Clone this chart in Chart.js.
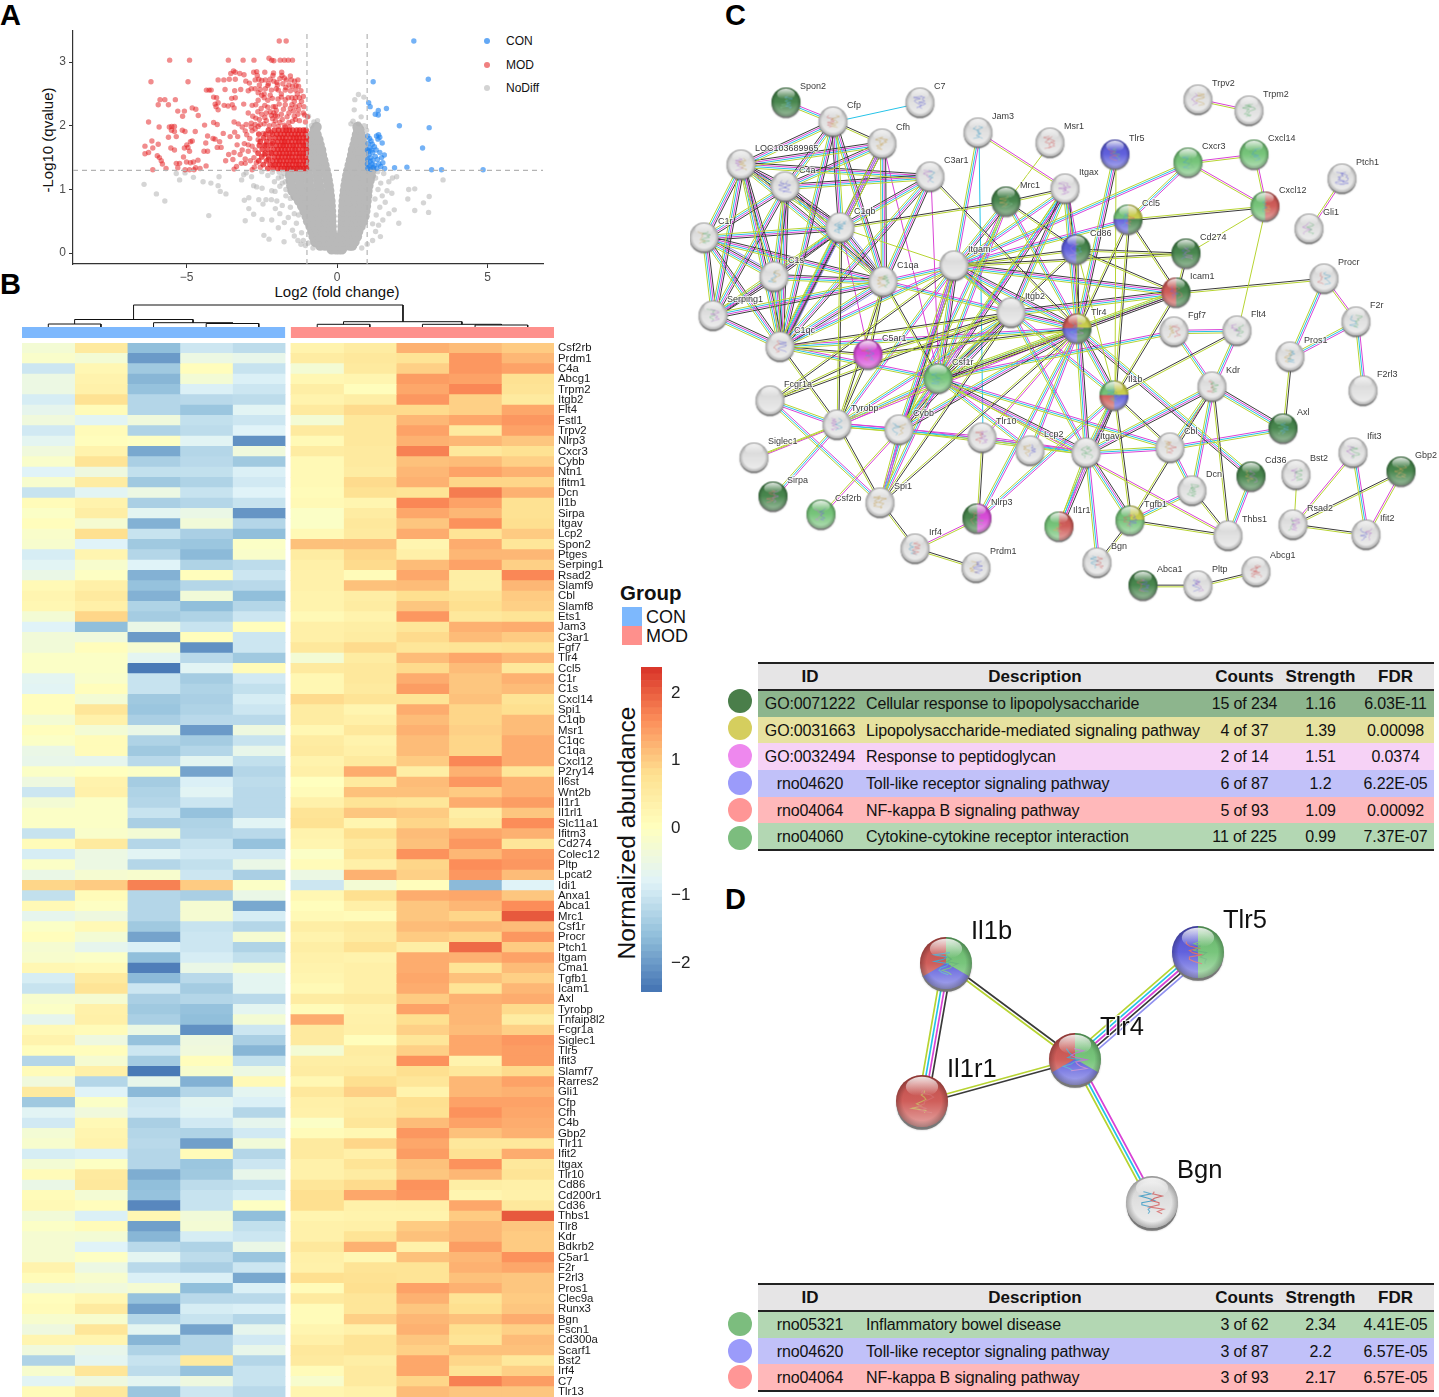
<!DOCTYPE html>
<html lang="en">
<head>
<meta charset="UTF-8" />
<title>Volcano, heatmap and network panels</title>
<script src="https://cdn.jsdelivr.net/npm/chart.js"></script>
<style>
  * { margin: 0; padding: 0; box-sizing: border-box; }
  body { width: 1439px; height: 1397px; position: relative; overflow: hidden; background: #fff; font-family: 'Liberation Sans', Arial, sans-serif; color: #111; }
  canvas { position: absolute; }
  .letter { position: absolute; font-weight: bold; font-size: 29px; line-height: 29px; color: #000; }
  .abs { position: absolute; white-space: nowrap; }
  .dot { position: absolute; width: 6px; height: 6px; border-radius: 50%; }
  .swatch { position: absolute; left: 622px; width: 20px; height: 19px; }
  .ball { position: absolute; left: 728px; width: 24px; height: 24px; border-radius: 50%; }
  table { position: absolute; left: 758px; width: 676px; border-collapse: collapse; table-layout: fixed; border-top: 2px solid #222; border-bottom: 2px solid #222; font-size: 16px; }
  th { background: #e6e5e6; height: 27px; font-size: 17px; border-bottom: 2px solid #222; padding-top: 1px; }
  th:nth-child(2) { padding-left: 3px; }
  td { height: 26.7px; text-align: center; white-space: nowrap; padding: 1px 0 0; letter-spacing: -0.13px; }
  td:nth-child(2) { text-align: left; padding-left: 4px; }
</style>
</head>
<body>
<div class="letter" style="left:0;top:1px">A</div>
<div class="letter" style="left:0;top:270px">B</div>
<div class="letter" style="left:725px;top:1px">C</div>
<div class="letter" style="left:725px;top:885px">D</div>

<div class="dot" style="left:484px;top:38px;background:#63a8f5"></div>
<div class="abs" style="left:506px;top:34px;font-size:12px">CON</div>
<div class="dot" style="left:484px;top:62px;background:#f08080"></div>
<div class="abs" style="left:506px;top:58px;font-size:12px">MOD</div>
<div class="dot" style="left:484px;top:85px;background:#d3d3d3"></div>
<div class="abs" style="left:506px;top:81px;font-size:12px">NoDiff</div>
<div class="abs" style="left:47px;top:140px;font-size:15px;transform:translate(-50%,-50%) rotate(-90deg)">-Log10 (qvalue)</div>
<div class="abs" style="left:337px;top:291px;font-size:15px;transform:translate(-50%,-50%)">Log2 (fold change)</div>

<div class="abs" style="left:620px;top:581px;font-size:20.5px;font-weight:bold">Group</div>
<div class="swatch" style="top:607px;background:#7db8fd"></div>
<div class="swatch" style="top:626px;background:#fe908c"></div>
<div class="abs" style="left:646px;top:607px;font-size:18px">CON</div>
<div class="abs" style="left:646px;top:626px;font-size:18px">MOD</div>
<div class="abs" style="left:627px;top:833px;font-size:24.6px;transform:translate(-50%,-50%) rotate(-90deg)">Normalized abundance</div>

<div id="tableC"></div>
<div id="tableD"></div>

<script>
// A: volcano, values
const volcanoXTicks = [-5, 0, 5];
const volcanoYTicks = [0, 1, 2, 3];
const foldCutoffs = [-1, 1];
const qCutoff = 1.3;

const conPoints = [[2.55,3.33],[3.03,2.73],[1.2,2.69],[1.05,2.36],[1.1,2.3],[1.64,2.27],[1.37,2.24],[1.37,2.17],[1.27,2.18],[2.07,2],[3.06,1.97],[2.84,1.65],[1.91,1.34],[2.32,1.35],[3.14,1.31],[3.47,1.31],[4.85,1.31],
  [1.02,1.84],[1.08,1.8],[1.13,1.76],[1.03,1.72],[1.17,1.71],[1.38,1.86],[1.42,1.82],[1.36,1.79],[1.31,1.84],[1.24,1.67],[1.5,1.73],[1.09,1.65],[1.01,1.62],[1.18,1.58],[1.3,1.62],[1.42,1.58],[1.06,1.55],[1.12,1.5],[1.27,1.52],[1.02,1.47],[1.1,1.44],[1.19,1.46],[1.34,1.47],[1.57,1.54],[1.48,1.5],[1.01,1.4],[1.08,1.37],[1.16,1.4],[1.25,1.38],[1.39,1.4],[1.52,1.42],[1.02,1.33],[1.12,1.32],[1.21,1.34],[1.58,1.33],[1.32,1.33],[1.05,1.6],[1.15,1.62],[1.45,1.36]];

const modPoints = [[-1.92,3.33],[-1.69,3.33],[-5.56,3.03],[-4.9,3.03],[-3.61,3.03],[-3.12,3.03],[-2.76,3.03],[-2.26,3.06],[-2.17,3.03],[-2.1,3.02],[-1.89,3.03],[-1.75,3.03],[-1.62,3.03],[-1.48,3.03],
  [-3.44,2.86],[-3.38,2.84],[-3.53,2.82],[-3.23,2.82],[-3.09,2.8],[-2.77,2.84],[-2.67,2.85],[-2.4,2.84],[-2.11,2.83],[-1.84,2.84],[-1.83,2.79],[-2.13,2.79],[-2.65,2.79],
  [-6.18,2.69],[-4.95,2.69],[-3.95,2.72],[-3.76,2.72],[-3.58,2.73],[-3.38,2.73],[-3.03,2.7],[-2.91,2.67],[-2.72,2.72],[-2.6,2.73],[-2.5,2.71],[-2.38,2.72],[-2.22,2.73],[-2.1,2.7],[-1.9,2.74],[-1.75,2.75],[-1.68,2.72],[-1.52,2.72],[-1.41,2.7],[-2.58,2.64],[-2.3,2.63],[-1.98,2.64],[-1.8,2.66],[-1.6,2.64],[-1.36,2.63],[-1.28,2.62],
  [-4.34,2.56],[-4.25,2.56],[-4.18,2.56],[-3.72,2.57],[-3.4,2.55],[-3.2,2.57],[-2.95,2.55],[-2.85,2.58],[-2.72,2.58],[-2.55,2.57],[-2.38,2.58],[-2.18,2.56],[-1.95,2.56],[-1.72,2.56],[-1.55,2.55],[-1.38,2.56],[-1.2,2.55],
  [-4.1,2.45],[-4,2.44],[-3.5,2.43],[-3.38,2.44],[-2.5,2.48],[-2.42,2.44],[-2.15,2.43],[-1.85,2.45],[-1.62,2.44],[-1.5,2.44],[-1.38,2.44],[-1.25,2.44],[-1.12,2.46],[-2.3,2.4],[-1.72,2.41],
  [-5.88,2.41],[-5.72,2.41],[-5.94,2.33],[-5.6,2.33],[-5.37,2.41],[-5.29,2.23],[-5.07,2.23],[-5.13,2.15],[-4.81,2.28],[-4.69,2.26],[-4.61,2.16],[-4.05,2.34],[-3.95,2.36],[-4.02,2.3],[-3.95,2.25],[-3.75,2.32],[-3.62,2.31],[-3.48,2.33],[-3.42,2.28],[-3.1,2.34],[-2.7,2.33],[-2.52,2.27],[-2.3,2.29],[-2.12,2.3],[-1.92,2.34],[-1.72,2.33],[-1.5,2.33],[-1.38,2.3],[-1.25,2.32],[-1.1,2.3],
  [-2.63,2.22],[-2.5,2.18],[-2.35,2.2],[-2.1,2.2],[-2.02,2.24],[-1.98,2.15],[-1.85,2.18],[-1.6,2.2],[-1.45,2.23],[-1.3,2.18],[-1.08,2.17],[-0.98,2.14],[-2.7,2.12],[-2.58,2.1],[-2.4,2.13],[-2.14,2.11],[-2.05,2.08],[-1.82,2.1],[-1.48,2.07],[-1.38,2.1],[-1.25,2.08],[-1.05,2.06],
  [-6.26,2.06],[-5.91,1.98],[-5.57,1.98],[-5.49,1.99],[-5.4,1.99],[-5.5,1.93],[-5.4,1.91],[-5.6,1.82],[-5.34,1.83],[-5.14,1.93],[-5.05,1.91],[-4.71,1.91],[-4.4,2.01],[-4.1,2.05],[-3.98,2.02],[-3.42,2.06],[-3.28,2.03],[-3.15,1.98],[-3.02,2.02],[-2.85,2.04],[-2.72,2.02],[-2.62,1.99],[-2.42,2.03],[-2.25,2],[-2.1,2.02],[-1.95,1.99],[-1.75,2.01],[-1.58,1.98],
  [-6.15,1.76],[-5.94,1.71],[-6.12,1.65],[-6.38,1.68],[-6.38,1.56],[-6.26,1.58],[-5.97,1.53],[-5.9,1.5],[-5.84,1.45],[-5.8,1.4],[-6.12,1.31],[-5.68,1.33],[-5.52,1.65],[-5.4,1.62],[-5.34,1.41],[-5.23,1.41],[-5.29,1.34],[-5.1,1.51],[-5.07,1.65],[-4.99,1.7],[-4.87,1.75],[-4.81,1.76],[-4.95,1.66],[-4.9,1.6],[-5,1.43],[-4.87,1.42],[-4.77,1.43],[-4.62,1.46],[-4.7,1.34],[-5.05,1.31],[-4.9,1.31],[-4.75,1.31],[-4.55,1.33],[-4.35,1.37],[-4.3,1.6],[-4.42,1.6],[-4.36,1.73],[-4.3,1.84],[-4.12,1.8],[-4.05,1.79],[-3.9,1.75],[-3.85,1.66],[-3.98,1.66],[-3.78,1.88],[-3.55,1.83],[-3.4,1.9],[-3.3,1.83],[-3.32,1.7],[-3.42,1.58],[-3.6,1.55],[-3.7,1.45],[-3.46,1.47],[-3.42,1.32],[-3.34,1.36],[-3.22,1.55],[-3.15,1.62],[-3.08,1.72],[-3,1.86],[-2.9,1.8],[-2.82,1.92],[-3.05,1.48],[-3.18,1.41],[-3.05,1.41],[-2.88,1.45],[-2.76,1.5],[-2.95,1.6],[-2.82,1.68],[-2.75,1.35],[-2.82,1.31],
  [-2.55,2.02],[-2.35,2.08],[-2.18,2.16],[-2.05,2.3],[-1.96,2.42],[-1.78,2.26],[-1.66,2.14],[-1.55,2.27],[-1.42,2.38],[-1.32,2.5],[-1.18,2.38],[-1.12,2.2],[-1.28,2.25],[-1.42,2.15],[-1.6,2.05],[-1.72,1.98],[-1.9,2.05],[-2.05,2.16],[-2.22,2.22],[-2.4,2.32],[-2.62,2.4],[-2.82,2.32],[-2.95,2.2],[-2.8,2.15],[-2.72,1.95],[-2.85,1.98],[-3.05,1.92],[-2.95,1.7],[-2.62,1.78],[-2.72,1.62],[-2.68,1.42],[-2.55,1.35],[-2.42,1.55],[-2.28,1.47],[-2.36,1.7],[-2.45,1.88],[-2.2,1.9],[-2.15,1.72],[-2.2,1.58],[-2.12,1.38],[-1.85,2.5],[-1.7,2.6],[-1.48,2.62],[-2.02,2.58],[-2.22,2.48],[-2.42,2.5],[-2.62,2.52],[-2,2.68],[-2.28,2.66],[-1.55,2.78],[-1.3,2.72]];

// dense part of the red cloud, y first then the x values on that row
const modRows = [
  [1.33,-1.02,-1.12,-1.22,-1.33,-1.44,-1.53,-1.66,-1.75,-1.86,-1.97,-2.12,-2.3],
  [1.39,-1.04,-1.15,-1.27,-1.36,-1.48,-1.6,-1.7,-1.82,-1.93,-2.05,-2.22,-2.45],
  [1.45,-1.02,-1.11,-1.23,-1.35,-1.45,-1.55,-1.67,-1.78,-1.9,-2,-2.14,-2.34,-2.6],
  [1.51,-1.05,-1.16,-1.26,-1.38,-1.5,-1.61,-1.72,-1.84,-1.95,-2.08,-2.27,-2.5],
  [1.57,-1.03,-1.13,-1.24,-1.34,-1.47,-1.58,-1.68,-1.8,-1.91,-2.03,-2.18,-2.38,-2.62],
  [1.63,-1.02,-1.14,-1.28,-1.39,-1.49,-1.62,-1.73,-1.85,-1.96,-2.1,-2.3,-2.48],
  [1.69,-1.04,-1.12,-1.23,-1.36,-1.46,-1.57,-1.69,-1.79,-1.89,-2.02,-2.2,-2.4,-2.58],
  [1.75,-1.03,-1.16,-1.27,-1.37,-1.51,-1.63,-1.74,-1.83,-1.97,-2.13,-2.33,-2.55],
  [1.81,-1.02,-1.13,-1.25,-1.35,-1.45,-1.56,-1.7,-1.81,-1.92,-2.06,-2.24,-2.44],
  [1.87,-1.05,-1.17,-1.29,-1.4,-1.52,-1.64,-1.75,-1.88,-2,-2.15,-2.36,-2.6],
  [1.93,-1.03,-1.12,-1.24,-1.34,-1.47,-1.59,-1.69,-1.8,-1.94,-2.08,-2.28]
];

// solid grey V, y first then the x values on that row
const noDiffRows = [
  [0.06,-0.18,-0.04,0.06,0.16],
  [0.12,-0.56,-0.4,-0.22,-0.06,0.08,0.26,0.42,0.5],
  [0.18,-0.72,-0.54,-0.36,-0.2,-0.04,0.04,0.2,0.38,0.52,0.58],
  [0.26,-0.78,-0.6,-0.42,-0.24,-0.1,0.1,0.24,0.42,0.56,0.66],
  [0.34,-0.82,-0.64,-0.48,-0.32,-0.18,0.18,0.32,0.48,0.6,0.7],
  [0.42,-0.88,-0.7,-0.52,-0.34,-0.18,0.18,0.34,0.5,0.64,0.78],
  [0.5,-0.96,-0.76,-0.56,-0.37,-0.19,0.19,0.37,0.54,0.7,0.86],
  [0.58,-1.01,-0.8,-0.6,-0.39,-0.19,0.19,0.38,0.56,0.74,0.91],
  [0.66,-1.08,-0.86,-0.64,-0.42,-0.2,0.2,0.4,0.58,0.76,0.94],
  [0.74,-1.16,-0.92,-0.68,-0.44,-0.21,0.21,0.41,0.6,0.78,0.96],
  [0.82,-1.26,-1,-0.74,-0.48,-0.22,0.22,0.42,0.62,0.8,0.98],
  [0.9,-1.38,-1.1,-0.82,-0.53,-0.24,0.24,0.44,0.64,0.82,1],
  [0.98,-1.48,-1.18,-0.88,-0.57,-0.26,0.26,0.46,0.65,0.84,1.01],
  [1.06,-1.52,-1.22,-0.92,-0.6,-0.28,0.28,0.48,0.67,0.86,1.04],
  [1.14,-1.54,-1.24,-0.94,-0.63,-0.31,0.31,0.51,0.7,0.89,1.08],
  [1.22,-1.56,-1.26,-0.96,-0.65,-0.34,0.34,0.54,0.73,0.93,1.12],
  [1.3,-1.56,-1.26,-0.96,-0.67,-0.38,0.38,0.57,0.76,0.95,1.14],
  [1.38,-0.86,-0.64,-0.42,0.42,0.58,0.74,0.88],
  [1.46,-0.85,-0.65,-0.46,0.46,0.6,0.75,0.88],
  [1.54,-0.85,-0.67,-0.5,0.5,0.63,0.76,0.88],
  [1.62,-0.85,-0.69,-0.53,0.53,0.66,0.78,0.88],
  [1.7,-0.85,-0.71,-0.58,0.58,0.7,0.8,0.87],
  [1.78,-0.82,-0.7,-0.62,0.62,0.72,0.82],
  [1.86,-0.8,-0.68,0.66,0.78],
  [1.94,-0.74,0.7,0.74],
  [1.98,-0.68,0.68]
];

const noDiffPoints = [[-6.41,1.08],[-6,0.93],[-5.72,0.82],[-5.34,1.25],[-5.23,1.15],[-5.05,1.26],[-4.77,1.19],[-4.45,1.12],[-4.19,1.1],[-3.95,1.06],[-3.92,1.2],[-3.88,0.97],[-3.69,0.93],[-4.26,0.59],[-3.08,0.83],[-2.93,0.87],[-2.93,0.7],[-2.77,0.61],[-3.05,0.51],[-3.17,1.15],[-3.1,1.23],[-3.02,1.26],[-2.84,1.2],[-2.77,1.06],[-2.67,1.04],[-2.49,1.02],[-2.43,0.28],[-2.26,0.22],[-1.76,0.18],[-2.49,0.53],[-2.17,0.52],[-2.36,0.84],[-2.18,0.84],[-2.06,0.97],[-2.17,0.98],[-1.9,1.05],[-1.84,1.2],[-2.5,1.28],[-2.3,1.22],[-2.6,0.84],[-2.46,0.77],[-2,0.82],[-2.05,0.7],[-1.9,0.62],[-1.82,0.75],[-1.7,0.9],[-1.72,1.12],[-1.76,1.25],[-1.95,0.4],[-1.75,0.48],[-1.62,0.56],[-1.55,0.72],[-1.48,0.36],[-1.42,0.27],[-1.3,0.2],[-1.2,0.14],[-1.12,0.2],[-1.05,0.12],[-1.18,0.32],[-1.35,0.47],[-0.8,0.08],[-0.95,0.16],[-1.28,0.6],[-1.42,0.62],[-1.55,0.86],[-1.7,1],[-1.82,1.1],[-1.95,1.18],[-2.08,1.12],[-2.15,1.27],[-1.92,1.27],
  [0.71,2.49],[0.59,2.41],[0.89,2.45],[0.57,2.25],[0.8,2.14],[0.53,2.07],[0.71,2.03],[0.9,2],[-0.95,2.15],[-0.77,2.06],[-0.65,2.08],[-0.85,2],[0.98,1.93],[0.46,2.03],
  [3.52,1.15],[2.58,1.01],[2.38,1],[2.35,0.85],[2.87,0.79],[3.06,0.89],[2.58,0.67],[3.04,0.64],[2.05,0.47],[1.9,0.68],[1.82,0.94],[1.84,1.18],[1.98,1.2],[1.72,1.12],[1.66,0.98],[1.44,0.26],[1.55,1.25],[1.45,1.1],[1.6,0.8],[1.72,0.62],[1.52,0.52],[1.42,0.72],[1.38,0.44],[1.28,0.34],[1.18,0.2],[1,0.14],[1.35,1.28],[1.5,0.9],[0.82,0.08],[1.3,0.6],[1.26,0.85],[1.36,1],[1.28,1.18],[1.18,0.46]];

// B: heatmap
const genes = ['Csf2rb','Prdm1','C4a','Abcg1','Trpm2','Itgb2','Flt4','Fstl1','Trpv2','Nlrp3','Cxcr3','Cybb','Ntn1','Ifitm1','Dcn','Il1b','Sirpa','Itgav','Lcp2','Spon2','Ptges','Serping1','Rsad2','Slamf9','Cbl','Slamf8','Ets1','Jam3','C3ar1','Fgf7','Tlr4','Ccl5','C1r','C1s','Cxcl14','Spi1','C1qb','Msr1','C1qc','C1qa','Cxcl12','P2ry14','Il6st','Wnt2b','Il1r1','Il1rl1','Slc11a1','Ifitm3','Cd274','Colec12','Pltp','Lpcat2','Idi1','Anxa1','Abca1','Mrc1','Csf1r','Procr','Ptch1','Itgam','Cma1','Tgfb1','Icam1','Axl','Tyrobp','Tnfaip8l2','Fcgr1a','Siglec1','Tlr5','Ifit3','Slamf7','Rarres2','Gli1','Cfp','Cfh','C4b','Gbp2','Tlr11','Ifit2','Itgax','Tlr10','Cd86','Cd200r1','Cd36','Thbs1','Tlr8','Kdr','Bdkrb2','C5ar1','F2r','F2rl3','Pros1','Clec9a','Runx3','Bgn','Fscn1','Cd300a','Scarf1','Bst2','Irf4','C7','Tlr13'];

const conValues = [[-.3,.55,-1.6,-1,-1.15],[-.15,-.3,-2,-.5,-.6],[-1,.2,-1.45,.05,-1.05],[-.5,.3,-1.7,-.3,-.85],[-.5,.35,-1.55,-.85,-1],[-.9,.75,-1.25,-1.2,-1.15],[-.65,.1,-1.25,-1.5,-.75],[-.4,-.75,-.4,-1.1,-1],[-.95,.1,-1.3,-1.15,-.8],[-.7,.05,-.05,-.75,-2.1],
[-.4,.3,-1.85,-1.25,-.4],[-.15,.7,-1.35,-1.2,-1.45],[-.8,-.45,-1.1,-1.1,-.85],[-.2,.5,-1.45,-1.3,-.95],[-1.05,-.75,-.5,-1.05,-.8],[.1,.3,-1.35,-1.25,-1.05],[-.1,.45,-.7,-.55,-2.05],[.05,-.25,-1.75,-.35,-1.25],[-.15,.8,-1.05,-1.35,-1.6],[-.2,-.8,-1.45,-1.5,-.1],
[-.9,.25,-1.25,-1.65,-.15],[-.75,-.2,-.8,-1.3,-1.15],[-.55,-.05,-1.75,.05,-1],[.15,.4,-1.55,-1.25,-1.2],[.25,.55,-1.75,-.35,-1.6],[.2,.4,-1.3,-1.6,-1.25],[-.3,.9,-1.4,-1.3,-1],[-.8,-1.6,-.55,-1.05,.05],[-.35,-.4,-2,.05,-1],[-.35,.05,-.25,-2.1,-1],
[-.1,-.1,-.7,-1.2,-1.45],[-.1,-.1,-2.35,-.75,.1],[-.7,-.15,-1.05,-1.4,-.95],[-.75,.05,-1.05,-1.3,-1.1],[.05,-.3,-1.45,-1.35,-.9],[.05,.65,-1.5,-1.3,-1],[-.3,.35,-1.35,-1.2,-1.2],[.05,-.3,-.55,-2,-.45],[-.1,.1,-1.3,-1.4,-1.05],[-.55,.1,-1.45,-1.25,-.6],
[-.6,-.65,-1.2,-.7,-1.1],[-.1,0,-.1,-1.9,-1.25],[-.45,.3,-1.4,-.85,-1.15],[-1,.35,-1.3,-.75,-1.2],[-.3,-.1,-1.25,-1,-1.2],[-.1,-.1,-1.05,-1.55,-1.2],[-.1,-.1,-1.35,-1.3,-.75],[-1.05,-.15,-.3,-1.25,-1.2],[.1,.55,-1.25,-1.05,-1.55],[-.9,-.5,-.75,-.95,-.95],
[-.1,-.5,-1.25,-1.1,-.55],[-.55,-.25,-.2,-1,-1.35],[.9,1,1.7,1,-.1],[-1.1,.1,-1.25,-1.35,-.55],[.15,-.05,-1.25,-.25,-1.85],[-.65,-.45,-1.25,-.25,-.9],[-.1,.15,-1.45,-1.05,-1.25],[.05,-.3,-1.9,-1,-.25],[-.25,-.65,-.85,-1,-1.3],[-.2,-.1,-1.6,-.9,-1.1],
[.2,.15,-2.3,-.55,-.3],[-.9,.55,-1.65,-1.2,-.7],[-1.05,.7,-1,-1.4,-.7],[-.2,-.25,-1.35,-1.25,-1.2],[-.1,.35,-1.45,-1.55,-.7],[-.65,.4,-1.35,-1.6,-.3],[.15,.1,-.5,-2.1,-1],[.3,-.45,-1.55,-.45,-1.35],[.05,.05,-1,-.4,-1.7],[-1.25,-.25,-1.4,.05,-1.1],
[.1,.4,-2.35,-.2,-.5],[-.4,-1.25,-.6,-1.75,.15],[.55,-.8,-1.65,-1.25,-.7],[-1.45,-.1,-1,-.7,-.85],[-.75,-.4,-.95,-.75,-1.25],[-.95,.15,-1.35,-.95,-.65],[-.3,.25,-1.25,-1.3,-.95],[-.2,.3,-1.2,-1.95,-.35],[-.9,-.85,-1.25,.1,-1.25],[-.3,-.05,-1.25,-1.5,-1],
[.1,.55,-1.8,-1.45,-.6],[-.55,.6,-1.6,-1.15,-1.1],[.1,-.3,-1.55,-1.05,-.9],[.15,.05,-2.2,-1.05,-.05],[-.35,-.85,.2,-.35,-1.6],[-.1,.1,-1.95,-.3,-1.1],[-.25,-.3,-1.7,-.9,-1],[-.25,-.8,-1.2,-1.3,-.55],[-.25,-.05,-.7,-1.15,-1.5],[.3,-.5,-1.2,-1.35,-1],
[.1,-.2,-.85,-.85,-1.85],[-.45,-.4,-.25,-1.6,-.85],[.05,.2,-1.55,-1.2,-1.2],[.1,.55,-1.95,-.9,-.85],[-.2,-.2,-1.25,-1.05,-1.25],[-.45,.65,-.7,-1.9,-.65],[.25,.25,-1.7,-1.25,-.95],[-.4,-.6,-1.3,-1.25,-.6],[-1.3,-.7,-1.05,.55,-1.25],[-.2,.65,-1.15,-1.55,-1.05],
[-.75,-.45,-.7,-.45,-1.05],[.1,.6,-1.5,-1,-1.2]];

const modValues = [[.3,.5,1.25,1.15,1],[.5,.6,.7,1.5,1.2],[-.3,.55,.95,1.5,1.4],[.2,.25,1.45,1.4,.75],[.45,.05,1.35,1.65,.7],[.3,.45,1.5,.95,.55],[.55,.85,.85,.95,1.35],[-.3,.6,1.2,1.35,1.5],[.55,.6,1.4,.55,1.4],[.15,.6,1.25,1.2,1.05],
[.5,.55,1.7,.6,.75],[.15,.55,1.1,1.15,.95],[.15,.5,1.2,1.4,1.25],[.15,.85,1.25,.9,.9],[.1,.75,.7,1.75,1.25],[.15,.25,1.65,1.4,.75],[-.1,.5,1.35,1.2,.75],[-.1,.6,1.05,1.55,.8],[.15,.55,1.3,.7,1],[1.1,1.1,.25,1.3,.65],
[.5,.9,.4,1.2,1.2],[.4,.85,1.15,1.4,.95],[.35,.1,1.35,.45,1.65],[.35,1.1,1.15,.45,1.2],[.3,.45,.8,.7,1],[.3,.5,1.05,.8,.95],[.15,.3,1.5,.6,.7],[.4,.45,.65,1.25,1.3],[.4,.5,.85,1.15,1],[.6,.85,.65,.7,.75],
[-.3,.5,1.15,1.35,1.2],[.55,.6,.85,1.15,.6],[.2,.6,1.3,1.05,1.25],[.2,.55,1.45,1.05,1.15],[.85,.7,.7,1.1,.7],[.5,.25,1.3,.9,.8],[.5,.4,1.15,.9,1.15],[.2,.6,1.25,.95,1.15],[.5,.3,1.15,.9,1.3],[.55,.4,1.15,.9,1.3],
[.3,.55,1,1.65,1.3],[.4,1.3,.45,1.25,.65],[0,.55,1.15,1.5,1.25],[.1,1.1,1.1,1,1.25],[.35,.7,.65,1.3,1.45],[.7,1.05,1,.45,1.05],[.75,.25,.9,.6,1.6],[.3,.8,1.15,1.35,1.25],[.25,.55,1.1,1.5,.65],[-.1,.7,1.55,1.2,1.45],
[.1,.4,.9,1.6,1.5],[-.5,1.25,.95,1.5,1.15],[-1,-.3,.05,-1.65,-.8],[.2,.8,1.3,1.35,1.05],[.05,.4,1.05,1.2,1.6],[.15,.1,1.05,.9,2.05],[.45,.55,1.15,1.2,1.15],[.3,.5,1,.9,1.5],[.45,.75,.45,1.9,1],[.35,.3,1.3,1.25,1.4],
[.3,.4,1.3,.7,1.15],[.25,.4,1.35,1.1,.95],[.15,.4,1.3,.7,1.2],[.5,.55,1,1.25,1.3],[.1,.3,1.4,1.2,.85],[1.3,.35,.8,1.2,.5],[.55,.4,.95,1.15,.95],[.55,.05,.65,1.35,1.5],[-.3,.5,.95,1.35,1.45],[.45,.45,1.55,.3,1.45],
[.5,.55,.8,.6,.85],[.2,.8,.65,1.2,1.4],[.6,.95,.3,1.2,1.25],[.4,.5,.8,1.4,1.4],[.35,.55,.75,1.55,1.35],[-.1,.65,1.15,1.4,1.3],[.1,.2,1.5,1.1,1.25],[.55,.9,1.35,.6,.6],[.55,.4,1.45,.75,1.3],[.35,.7,1.1,1.55,.6],
[.35,.5,1.05,1.2,.7],[.65,.85,1.55,.45,.4],[.8,1.35,1.5,.25,.35],[.8,.35,.4,1.35,.6],[.25,.3,.3,1,2.05],[.35,.4,1,1.2,1.05],[.35,.7,1.1,1.2,1],[.6,1.25,.35,1.45,1],[.4,.2,1.1,1.2,1.55],[.35,.7,.7,1.25,1.35],
[.8,.75,.7,1.1,1.05],[.1,.8,1.4,1.25,1.05],[.55,.65,1.25,.7,1],[.1,.65,1.05,.8,1.05],[.1,.95,1.2,1.1,1.3],[.25,.35,1.25,.8,.95],[.4,.7,1.05,.7,1.15],[.6,.7,.95,1.1,1.1],[.55,.45,1.35,.9,.6],[.1,.55,1.35,.7,.95],
[-.2,.55,.9,1.7,1.45],[.25,.35,1.15,1.05,1.05]];

// dendrogram merges: left x, right x, merge height, left child height, right child height
const dendroLinks = [[0.5,1.5,3,0,0],[3.5,4.5,3.5,0,0],[2.5,4,4.3,0,3.5],[1,3.25,7.5,3,4.3],[5.61,6.61,2.7,0,0],[8.61,9.61,2,0,0],[7.61,9.11,2.7,0,2],[6.11,8.36,5.3,2.7,2.7],[2.12,7.24,22,7.5,5.3]];
const colorbarTicks = [2, 1, 0, -1, -2];

// C: network
const nodeNames = ['Spon2','Cfp','C7','Trpv2','Trpm2','Jam3','Msr1','Cfh','Tlr5','Cxcr3','Cxcl14','Ptch1','LOC103689965','C3ar1','C4a','Itgax','Mrc1','Cxcl12','Ccl5','Gli1','C1qb','Cd86','C1r','Cd274','Itgam','C1s','C1qa','Procr','Icam1','Itgb2','Serping1','Tlr4','Fgf7','Flt4','F2r','C1qc','C5ar1','Pros1','Csf1r','Il1b','Kdr','Fcgr1a','F2rl3','Axl','Tyrobp','Cybb','Siglec1','Tlr10','Lcp2','Itgav','Cbl','Ifit3','Gbp2','Bst2','Cd36','Dcn','Sirpa','Csf2rb','Spi1','Nlrp3','Il1r1','Tgfb1','Thbs1','Rsad2','Ifit2','Irf4','Bgn','Prdm1','Abca1','Pltp','Abcg1'];
const nodeX = [787,834,921,1199,1250,979,1051,883,1116,1189,1255,1343,742,931,786,1066,1007,1266,1129,1310,841,1077,705,1187,955,775,884,1325,1177,1012,714,1078,1175,1238,1357,781,869,1291,939,1115,1213,771,1364,1284,838,900,755,983,1031,1087,1171,1354,1402,1297,1252,1193,774,822,881,978,1060,1131,1229,1294,1367,916,1098,977,1144,1199,1257];
const nodeY = [103,122,103,100,111,133,143,144,155,163,155,179,165,177,187,189,202,207,220,229,228,250,238,254,266,277,282,279,293,313,316,329,332,331,322,347,355,357,379,396,387,401,391,429,425,430,458,438,451,453,448,453,472,475,477,491,497,515,503,519,527,521,536,525,535,549,563,568,586,586,572];
// enrichment terms of the coloured nodes, slices clockwise from the top
const nodeTerms = { Spon2:'g', Tlr5:'b', Cxcr3:'l', Cxcl14:'l', Cxcl12:'rl', Ccl5:'ygbl', Mrc1:'g', Cd86:'gb', Cd274:'g', Icam1:'gr', Tlr4:'ygbr', C5ar1:'m', Csf1r:'l', Il1b:'ybrl', Axl:'g', Cd36:'g', Sirpa:'g', Csf2rb:'l', Nlrp3:'mg', Il1r1:'rl', Tgfb1:'ylll', Abca1:'g', Gbp2:'g' };
// nodes that have no structure drawn in them
const blankNodes = ['Itgam','Itgb2','Fcgr1a','Siglec1','F2rl3','Thbs1'];

const edgesHomology = ['C1qb C1qa','C1qa C1qc','C1qb C1qc','C1r C1s'];
const edgesFull = ['LOC103689965 C4a','LOC103689965 C1qb','LOC103689965 C1r','LOC103689965 C1s','LOC103689965 C1qa','LOC103689965 Serping1','LOC103689965 C1qc','LOC103689965 Cfh','LOC103689965 Cfp','LOC103689965 C3ar1','C4a C1qb','C4a C1r','C4a C1s','C4a C1qa','C4a Serping1','C4a C1qc','C4a Cfh','C4a Cfp','C4a C3ar1','C1qb C1r','C1qb C1s','C1qb Serping1','C1qb Cfh','C1qb Cfp','C1qb C3ar1','C1r C1qa','C1r Serping1','C1r C1qc','C1s C1qa','C1s Serping1','C1s C1qc','C1qa Serping1','Serping1 C1qc','Cfh C1qa','Cfh C1qc','Cfp C1qa','Cfp C1qc','C3ar1 C1qa','C3ar1 C1qc','Tlr5 Tlr4','Itgam Itgb2','Itgam Tlr4','Itgam Icam1','Itgb2 Icam1','Itgb2 Tlr4','Tlr4 Csf1r','Tlr4 Il1b','Tlr4 Cybb','Icam1 Tlr4','Il1b Il1r1','Il1b Itgav','Itgav Tgfb1','Kdr Axl','Csf1r Itgav','Mrc1 Itgam','Itgax Tlr4','Itgax Csf1r','Tlr4 Itgav','Itgb2 Csf1r','Itgb2 Itgax','Itgam Csf1r','Itgam Cybb','Itgb2 Cybb','Csf1r Cybb','Cd36 Tlr4','Kdr Itgav'];
const edgesCMY = ['Spon2 Cfp','Jam3 Itgam','Cxcr3 Ccl5','Cxcr3 Itgam','Tlr4 Lcp2','Csf1r Cbl','Csf1r Fgf7','Fgf7 Flt4','Fgf7 Kdr','Flt4 Kdr','Kdr Cbl','Cbl Axl','Cbl Itgav','Cbl Dcn','Tyrobp Tlr10','Tlr10 Itgav','Cybb Itgav','Procr Pros1','F2r Pros1','F2r F2rl3','Tyrobp Fcgr1a','Tyrobp Sirpa','Tyrobp Cybb','Fcgr1a Spi1','Cybb Spi1','Spi1 Itgam','Itgav Il1r1','Itgav Bgn','Tgfb1 Dcn','Cd36 Thbs1','Ifit3 Ifit2','Cybb Mrc1','C1qc Itgam','C1qa Itgam','C1qa Itgb2','C1qc Tlr4','C1qc Csf1r','Itgax Itgam','Itgax Cybb','Mrc1 Tlr4','Mrc1 Csf1r','Itgam Tyrobp','Itgb2 Tyrobp','Itgax Cd86','Csf1r Tyrobp','Csf1r Spi1','Il1b Nlrp3','Itgam Il1b','Tlr4 Nlrp3','Itgb2 Itgav','Csf1r Lcp2','Kdr Dcn','Itgam Ccl5'];
const edgesKY = ['Cfp Cfh','C1qb Mrc1','C3ar1 Tlr4','C5ar1 Tlr4','C5ar1 Itgb2','C5ar1 Fcgr1a','C5ar1 Tyrobp','C1qc C5ar1','C1qa C5ar1','C1qa Tyrobp','C1qc Tyrobp','C1qb Tyrobp','C1qc Itgb2','C1qa Csf1r','Mrc1 Cd86','Mrc1 Itgax','Cd86 Cd274','Cd86 Icam1','Cd86 Tlr4','Cd86 Csf1r','Ccl5 Icam1','Ccl5 Tlr4','Ccl5 Il1b','Cd274 Icam1','Icam1 Procr','Icam1 Il1b','Icam1 Csf1r','Cxcl12 Ccl5','Il1b Tgfb1','Kdr Thbs1','Kdr Tgfb1','Tgfb1 Thbs1','Bgn Tgfb1','Dcn Thbs1','Abca1 Pltp','Pltp Abcg1','Irf4 Prdm1','Pros1 Axl','Itgam Cd274','Itgam Cd86','Itgam Fcgr1a','Itgb2 Fcgr1a','Itgb2 Spi1','Tlr4 Spi1','Tlr10 Nlrp3','Spi1 Irf4','Rsad2 Ifit2','Rsad2 Gbp2','Tyrobp Spi1','Il1b Flt4','Il1b Cbl'];
const edgesMY = ['Jam3 Itgax','Cxcr3 Cxcl14','Cxcr3 Cxcl12','Cxcl14 Cxcl12','Ptch1 Gli1','Procr F2r','Ifit2 Gbp2','Rsad2 Ifit3','Tyrobp Siglec1','Cybb Csf2rb','Trpv2 Trpm2','Irf4 Nlrp3','Csf1r Thbs1','Tlr4 Tyrobp','Tlr4 Tlr10'];
const edgesC = ['Cfp C7','Jam3 Tlr10'];
const edgesM = ['Cfh Csf1r','C1qb C5ar1','C3ar1 Csf1r'];
const edgesY = ['Msr1 Mrc1','Tlr5 Il1b','Cxcl12 Cd274','Cxcl12 Flt4','Siglec1 Tyrobp','Rsad2 Bst2','C1qb Itgam','Cd86 Il1b'];
// first entry ends up on top when the lines cross
const edgeChannels = { y:'#b7d432', k:'#3a3a3a', m:'#d943d6', c:'#25c3e8', b:'#9090f0' };

// D: small network
const nodeNamesD = ['Il1b','Tlr5','Tlr4','Il1r1','Bgn'];
const nodeXD = [947,1199,1076,923,1153];
const nodeYD = [964,953,1060,1102,1203];
const nodeTermsD = { Il1b:'lbr', Tlr5:'lb', Tlr4:'lbr', Il1r1:'r' };
const edgesD = [['Il1b','Tlr4','ky'],['Il1b','Il1r1','kmcy'],['Il1r1','Tlr4','yk'],['Tlr5','Tlr4','bkmcy'],['Tlr4','Bgn','mcy']];

// tables
const termColors = { g:'#3a7d40', y:'#c8cc40', m:'#d53fd5', b:'#5454da', r:'#cb504c', l:'#6cc070', w:'#dedede' };
const tableHeader = ['ID','Description','Counts','Strength','FDR'];
const tableRowsC = [
  ['GO:0071222','Cellular response to lipopolysaccharide','15 of 234','1.16','6.03E-11'],
  ['GO:0031663','Lipopolysaccharide-mediated signaling pathway','4 of 37','1.39','0.00098'],
  ['GO:0032494','Response to peptidoglycan','2 of 14','1.51','0.0374'],
  ['rno04620','Toll-like receptor signaling pathway','6 of 87','1.2','6.22E-05'],
  ['rno04064','NF-kappa B signaling pathway','5 of 93','1.09','0.00092'],
  ['rno04060','Cytokine-cytokine receptor interaction','11 of 225','0.99','7.37E-07']];
const rowColorsC = ['#8db58d','#e7e2a0','#f6d2f6','#c1c1f9','#ffb8ba','#b3d7b3'];
const ballColorsC = ['#4a7e4a','#d5ce5e','#ee88ee','#9b9bfa','#ff9696','#7cbd7e'];
const tableRowsD = [
  ['rno05321','Inflammatory bowel disease','3 of 62','2.34','4.41E-05'],
  ['rno04620','Toll-like receptor signaling pathway','3 of 87','2.2','6.57E-05'],
  ['rno04064','NF-kappa B signaling pathway','3 of 93','2.17','6.57E-05']];
const rowColorsD = ['#b3d7b3','#c1c1f9','#ffb8ba'];
const ballColorsD = ['#7cbd7e','#9b9bfa','#ff9696'];

const pairs = a => a.map(p => ({ x: p[0], y: p[1] }));
const fromRows = rows => rows.flatMap(r => r.slice(1).map(x => ({ x, y: r[0] })));

function addCanvas(left, top, w, h) {
  const c = document.createElement('canvas');
  c.width = w; c.height = h;
  c.style.left = left + 'px'; c.style.top = top + 'px';
  c.style.width = w + 'px'; c.style.height = h + 'px';
  document.body.appendChild(c);
  return c;
}

const baseOptions = { responsive: false, animation: false, events: [], layout: { autoPadding: false }, plugins: { legend: { display: false }, tooltip: { enabled: false } } };

// ---- A
function dashed(a, b) {
  return { type: 'scatter', showLine: true, data: [a, b], borderColor: '#b4b4b4', borderWidth: 1.2, borderDash: [5, 4], pointRadius: 0, order: 0 };
}
const XMIN = -8.77, XMAX = 6.84, YMIN = -0.17, YMAX = 3.5;
new Chart(addCanvas(0, 20, 560, 290), {
  type: 'scatter',
  data: { datasets: [
    dashed({ x: foldCutoffs[0], y: YMIN }, { x: foldCutoffs[0], y: YMAX }),
    dashed({ x: foldCutoffs[1], y: YMIN }, { x: foldCutoffs[1], y: YMAX }),
    dashed({ x: XMIN, y: qCutoff }, { x: XMAX, y: qCutoff }),
    { data: pairs(conPoints), backgroundColor: 'rgba(30,131,240,.62)', pointRadius: 2.7, borderWidth: 0, order: 1 },
    { data: pairs(modPoints), backgroundColor: 'rgba(228,26,28,.5)', pointRadius: 2.7, borderWidth: 0, order: 2 },
    { data: fromRows(modRows), backgroundColor: 'rgba(228,26,28,.72)', pointRadius: 2.9, borderWidth: 0, order: 3 },
    { data: pairs(noDiffPoints), backgroundColor: 'rgba(178,178,178,.55)', pointRadius: 2.7, borderWidth: 0, order: 4 },
    { data: fromRows(noDiffRows), backgroundColor: '#b9b9b9', pointRadius: 5.2, borderWidth: 0, order: 5 }
  ] },
  options: { ...baseOptions,
    layout: { autoPadding: false, padding: { top: 10, right: 17 } },
    scales: {
      x: { min: XMIN, max: XMAX,
        afterFit: s => { s.height = 46; },
        afterBuildTicks: s => { s.ticks = volcanoXTicks.map(value => ({ value })); },
        border: { color: '#333', width: 1.2 },
        grid: { drawOnChartArea: false, color: '#333', tickLength: 4 },
        ticks: { color: '#4d4d4d', font: { size: 12, family: 'Liberation Sans' }, padding: 2, callback: v => String(v).replace('-', '\u2212') } },
      y: { min: YMIN, max: YMAX,
        afterFit: s => { s.width = 73; },
        afterBuildTicks: s => { s.ticks = volcanoYTicks.map(value => ({ value })); },
        border: { color: '#333', width: 1.2 },
        grid: { drawOnChartArea: false, color: '#333', tickLength: 4 },
        ticks: { color: '#4d4d4d', font: { size: 12, family: 'Liberation Sans' }, padding: 3 } }
    } }
});

// ---- B
const palette = [[-2.4,69,117,180],[-1.6,145,191,219],[-.8,224,243,248],[0,255,255,191],[.8,254,224,144],[1.6,252,141,89],[2.4,215,48,39]];
function heatColor(v) {
  v = Math.max(-2.4, Math.min(2.4, v));
  let i = 0;
  while (i < palette.length - 2 && v > palette[i + 1][0]) i++;
  const a = palette[i], b = palette[i + 1], t = (v - a[0]) / (b[0] - a[0]);
  return 'rgb(' + [1, 2, 3].map(k => Math.round(a[k] + (b[k] - a[k]) * t)).join(',') + ')';
}

const GAP = 0.11;
const heatDatasets = [];
[conValues, modValues].forEach((values, g) => {
  for (let col = 0; col < 5; col++) {
    const start = col + (g ? 5 + GAP : 0);
    heatDatasets.push({
      data: genes.map(() => [start, start + 1]),
      backgroundColor: values.map(r => heatColor(r[col])),
      barPercentage: 1, categoryPercentage: 1, grouped: false, borderWidth: 0
    });
  }
});
new Chart(addCanvas(22, 343, 610, 1054), {
  type: 'bar',
  data: { labels: genes, datasets: heatDatasets },
  options: { ...baseOptions, indexAxis: 'y',
    scales: {
      x: { type: 'linear', min: 0, max: 10 + GAP, display: false },
      // no room kept for the first and last label, the rows run to the canvas edge
      y: { position: 'right', afterFit: s => { s.width = 78; s.paddingTop = 0; s.paddingBottom = 0; },
        border: { display: false }, grid: { display: false, drawTicks: false },
        ticks: { autoSkip: false, maxRotation: 0, padding: 4, color: '#1a1a1a', font: { size: 11.4, family: 'Liberation Sans' } } }
    } }
});

// dendrogram and group bars
const dendroSets = dendroLinks.map(l => ({
  showLine: true, pointRadius: 0, borderColor: '#111', borderWidth: 1,
  data: [{ x: l[0], y: l[3] }, { x: l[0], y: l[2] }, { x: l[1], y: l[2] }, { x: l[1], y: l[4] }]
}));
const barSet = (a, b, color) => ({ showLine: true, pointRadius: 0, borderColor: color, borderWidth: 11, borderCapStyle: 'butt', data: [{ x: a, y: -5.5 }, { x: b, y: -5.5 }] });
new Chart(addCanvas(22, 300, 532, 42), {
  type: 'scatter',
  data: { datasets: [...dendroSets, barSet(0, 5, '#7db8fd'), barSet(5 + GAP, 10 + GAP, '#fe908c')] },
  options: { ...baseOptions, scales: {
    x: { type: 'linear', min: 0, max: 10 + GAP, display: false },
    y: { min: -15, max: 27, display: false } } }
});

// colour bar
const barMin = -2.43, barMax = 2.385, barSteps = 48;
const barSets = [];
for (let i = 0; i < barSteps; i++) {
  const a = barMin + (barMax - barMin) * i / barSteps, b = barMin + (barMax - barMin) * (i + 1) / barSteps;
  barSets.push({ data: [[a, b]], backgroundColor: heatColor((a + b) / 2), grouped: false, barPercentage: 1, categoryPercentage: 1, borderWidth: 0 });
}
new Chart(addCanvas(600, 660, 100, 340), {
  type: 'bar',
  data: { labels: [''], datasets: barSets },
  options: { ...baseOptions,
    layout: { autoPadding: false, padding: { left: 41, top: 7, bottom: 8 } },
    scales: {
      x: { display: false },
      y: { position: 'right', min: barMin, max: barMax,
        afterFit: s => { s.width = 38; s.paddingTop = 0; s.paddingBottom = 0; },
        afterBuildTicks: s => { s.ticks = colorbarTicks.map(value => ({ value })); },
        border: { display: false }, grid: { display: false, drawTicks: false },
        ticks: { padding: 9, color: '#222', font: { size: 17, family: 'Liberation Sans' }, callback: v => String(v).replace('-', '\u2212') } }
    } }
});

// ---- C and D: network helpers
function makeSphere(name, r, terms) {
  const size = 2 * r + 10, c = r + 4;
  const cv = document.createElement('canvas');
  cv.width = size; cv.height = size;
  const g = cv.getContext('2d');
  // grey crescent under the ball
  g.save();
  g.shadowColor = 'rgba(0,0,0,.3)'; g.shadowBlur = 2;
  g.beginPath(); g.arc(c, c + r * 0.13, r * 0.98, 0, 7); g.fillStyle = '#777'; g.fill();
  g.restore();
  g.save();
  g.beginPath(); g.arc(c, c, r, 0, 7); g.clip();
  const cols = (terms || 'w').split('').map(t => termColors[t]);
  cols.forEach((col, i) => {
    const a = -Math.PI / 2 + i * 2 * Math.PI / cols.length;
    g.fillStyle = col;
    g.beginPath(); g.moveTo(c, c); g.arc(c, c, r + 2, a, a + 2 * Math.PI / cols.length); g.closePath(); g.fill();
  });
  // small protein drawing inside the ball
  if (!blankNodes.includes(name)) {
    const tints = ['#5f5fd0', '#b070c8', '#c4a050', '#3f9cc4', '#d06060', '#5fb070'];
    let h = 0;
    for (const ch of name) h = (h * 31 + ch.charCodeAt(0)) % 997;
    g.lineWidth = r > 20 ? 1.1 : 0.7;
    g.globalAlpha = r > 20 ? 1 : 0.7;
    for (let s = 0; s < 2; s++) {
      g.strokeStyle = tints[(h + s * 2) % tints.length];
      g.beginPath();
      for (let i = 0; i < 11; i++) {
        h = (h * 31 + 17) % 997;
        const px = c + (s - 0.5) * r * 0.3 + ((h % 11) / 10 - 0.5) * r * 0.6;
        const py = c - r * 0.4 + i * r * 0.085;
        if (i) g.lineTo(px, py); else g.moveTo(px, py);
      }
      g.stroke();
    }
    g.globalAlpha = 1;
  }
  let sh = g.createLinearGradient(0, c - r, 0, c + r);
  sh.addColorStop(0, 'rgba(0,0,0,.1)');
  sh.addColorStop(0.5, 'rgba(255,255,255,.08)');
  sh.addColorStop(1, 'rgba(255,255,255,.5)');
  g.fillStyle = sh; g.fillRect(0, 0, size, size);
  sh = g.createRadialGradient(c, c, r * 0.75, c, c, r);
  sh.addColorStop(0, 'rgba(0,0,0,0)');
  sh.addColorStop(1, 'rgba(0,0,0,.26)');
  g.fillStyle = sh; g.fillRect(0, 0, size, size);
  sh = g.createLinearGradient(0, c - r * 0.92, 0, c - r * 0.2);
  sh.addColorStop(0, 'rgba(255,255,255,.85)');
  sh.addColorStop(1, 'rgba(255,255,255,0)');
  g.fillStyle = sh;
  g.beginPath(); g.ellipse(c, c - r * 0.55, r * 0.62, r * 0.38, 0, 0, 7); g.fill();
  g.restore();
  return cv;
}

function edgeDatasets(edges, names, xs, ys, spacing, width) {
  const byChannel = {};
  Object.keys(edgeChannels).forEach(k => { byChannel[k] = []; });
  edges.forEach(e => {
    const i = names.indexOf(e[0]), j = names.indexOf(e[1]);
    const dx = xs[j] - xs[i], dy = ys[j] - ys[i], len = Math.hypot(dx, dy);
    const nx = -dy / len, ny = dx / len;
    e[2].split('').forEach((ch, k) => {
      const off = (k - (e[2].length - 1) / 2) * spacing;
      byChannel[ch].push({ x: xs[i] + nx * off, y: ys[i] + ny * off }, { x: xs[j] + nx * off, y: ys[j] + ny * off }, { x: NaN, y: NaN });
    });
  });
  return Object.keys(byChannel).map(k => ({
    showLine: true, spanGaps: false, pointRadius: 0, borderWidth: width, borderColor: edgeChannels[k], data: byChannel[k], order: 1
  }));
}

function labelPlugin(names, xs, ys, dx, dy, font, color) {
  return {
    id: 'nodeLabels',
    afterDatasetsDraw(chart) {
      const g = chart.ctx;
      g.save();
      g.font = font; g.textBaseline = 'middle'; g.textAlign = 'left';
      g.lineWidth = 2; g.strokeStyle = 'rgba(255,255,255,.75)'; g.fillStyle = color;
      names.forEach((n, i) => {
        const px = chart.scales.x.getPixelForValue(xs[i]) + dx, py = chart.scales.y.getPixelForValue(ys[i]) + dy;
        g.strokeText(n, px, py);
        g.fillText(n, px, py);
      });
      g.restore();
    }
  };
}

function drawNetwork(box, names, xs, ys, terms, edges, r, spacing, width, labelDx, labelDy, font, labelColor) {
  const sprites = names.map(n => makeSphere(n, r, terms[n]));
  new Chart(addCanvas(box.left, box.top, box.w, box.h), {
    type: 'scatter',
    data: { datasets: [
      { data: names.map((n, i) => ({ x: xs[i], y: ys[i] })), pointStyle: c => sprites[c.dataIndex] || 'circle', pointRadius: r, order: 0, clip: false },
      ...edgeDatasets(edges, names, xs, ys, spacing, width)
    ] },
    options: { ...baseOptions, scales: {
      x: { min: box.left, max: box.left + box.w, display: false },
      y: { min: box.top, max: box.top + box.h, reverse: true, display: false } } },
    plugins: [labelPlugin(names, xs, ys, labelDx, labelDy, font, labelColor)]
  });
}

const edgesCAll = [[edgesHomology,'bkmcy'],[edgesFull,'kmcy'],[edgesCMY,'mcy'],[edgesKY,'ky'],[edgesMY,'my'],[edgesC,'c'],[edgesM,'m'],[edgesY,'y']]
  .flatMap(([list, ch]) => list.map(s => [...s.split(' '), ch]));
drawNetwork({ left: 690, top: 60, w: 749, h: 560 }, nodeNames, nodeX, nodeY, nodeTerms, edgesCAll, 14.5, 1.7, 1, 13, -16, '9px "Liberation Sans"', '#3a3a3a');
drawNetwork({ left: 860, top: 890, w: 460, h: 350 }, nodeNamesD, nodeXD, nodeYD, nodeTermsD, edgesD, 26, 3.2, 1.7, 24, -32, '25.5px "Liberation Sans"', '#111');

// ---- tables
function buildTable(holder, top, rows, rowColors, balls, ballTop, ballStep) {
  let html = '<table style="top:' + top + 'px"><colgroup><col style="width:104px"><col style="width:343px"><col style="width:79px"><col style="width:73px"><col style="width:77px"></colgroup><tr>';
  tableHeader.forEach(h => { html += '<th>' + h + '</th>'; });
  html += '</tr>';
  rows.forEach((r, i) => {
    html += '<tr style="background:' + rowColors[i] + '">' + r.map(v => '<td>' + v + '</td>').join('') + '</tr>';
  });
  html += '</table>';
  balls.forEach((b, i) => {
    html += '<div class="ball" style="top:' + (ballTop + ballStep * i) + 'px;background:' + b + '"></div>';
  });
  holder.innerHTML = html;
}
buildTable(document.getElementById('tableC'), 662, tableRowsC, rowColorsC, ballColorsC, 689, 27.3);
buildTable(document.getElementById('tableD'), 1283, tableRowsD, rowColorsD, ballColorsD, 1312, 26.7);
</script>
</body>
</html>
